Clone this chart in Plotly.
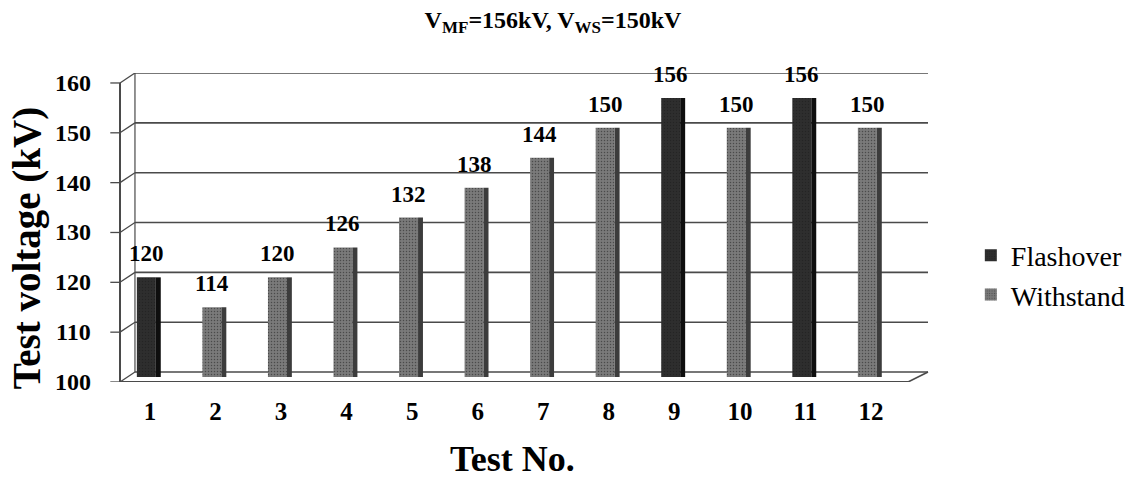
import plotly.graph_objects as go

# Test sequence and outcomes
tests = list(range(1, 13))
voltages = [120, 114, 120, 126, 132, 138, 144, 150, 156, 150, 156, 150]
outcomes = ["Flashover", "Withstand", "Withstand", "Withstand", "Withstand", "Withstand",
            "Withstand", "Withstand", "Flashover", "Withstand", "Flashover", "Withstand"]
y_ticks = [100, 110, 120, 130, 140, 150, 160]

FONT = "Liberation Serif"
face_colors = {"Flashover": "#2e2e2e", "Withstand": "#7a7a7a"}
side_colors = {"Flashover": "#0e0e0e", "Withstand": "#3c3c3c"}
grid_col = "#4a4a4a"

fig = go.Figure()

for series in ["Flashover", "Withstand"]:
    vals = [v if o == series else None for v, o in zip(voltages, outcomes)]
    heights = [None if v is None else v - 100 for v in vals]
    # front face of each bar
    fig.add_trace(go.Bar(
        x=tests, y=heights, base=100,
        name=series, offset=-0.2, width=0.29,
        marker=dict(color=face_colors[series], line=dict(width=0),
                    pattern=dict(shape=".", fgcolor="#1a1a1a", bgcolor=face_colors[series],
                                 size=3, solidity=0.2)),
        yaxis="y", hoverinfo="skip",
    ))
    # darker right-hand side face for depth
    fig.add_trace(go.Bar(
        x=tests, y=heights, base=100,
        name=series, offset=0.09, width=0.075, showlegend=False,
        marker=dict(color=side_colors[series], line=dict(width=0)),
        yaxis="y", hoverinfo="skip",
    ))

# value labels above bars
annotations = []
for t, v in zip(tests, voltages):
    annotations.append(dict(x=t - 0.055, y=v, xref="x", yref="y", text=f"<b>{v}</b>",
                            showarrow=False, yanchor="bottom", yshift=9,
                            font=dict(family=FONT, size=23, color="#000000")))

# y tick labels on the front axis
for v in y_ticks:
    annotations.append(dict(x=(93 - 120) / 810, y=v, xref="paper", yref="y2",
                            text=f"<b>{v}</b>", showarrow=False,
                            xanchor="right", yanchor="middle",
                            font=dict(family=FONT, size=24, color="#000000")))

# axis titles
annotations.append(dict(text="<b>Test No.</b>", xref="paper", yref="paper",
                        x=(513 - 120) / 810, y=-(459 - 382) / 309,
                        xanchor="center", yanchor="middle", showarrow=False,
                        font=dict(family=FONT, size=36, color="#000000")))
annotations.append(dict(text="<b>Test voltage (kV)</b>", xref="paper", yref="paper",
                        x=(27 - 120) / 810, y=(382 - 248) / 309, textangle=-90,
                        xanchor="center", yanchor="middle", showarrow=False,
                        font=dict(family=FONT, size=39, color="#000000")))

# back wall gridlines and left wall connectors
xb = 15 / 810
xf_end = 790 / 810
shapes = []
for v in y_ticks:
    shapes.append(dict(type="line", xref="paper", yref="y3", x0=xb, x1=1, y0=v, y1=v,
                       line=dict(color=grid_col, width=1.6), layer="below"))
    shapes.append(dict(type="line", xref="paper", yref="y3", x0=0, x1=xb, y0=v - 2, y1=v,
                       line=dict(color=grid_col, width=1.3), layer="below"))
    shapes.append(dict(type="line", xref="paper", yref="y3", x0=-0.012, x1=0, y0=v - 2, y1=v - 2,
                       line=dict(color=grid_col, width=1.3), layer="below"))
# back wall left edge, front axis line, floor edges
shapes.append(dict(type="line", xref="paper", yref="y3", x0=xb, x1=xb, y0=100, y1=160,
                   line=dict(color=grid_col, width=1.2), layer="below"))
shapes.append(dict(type="line", xref="paper", yref="y3", x0=0, x1=0, y0=98, y1=158,
                   line=dict(color=grid_col, width=2), layer="below"))
shapes.append(dict(type="line", xref="paper", yref="y3", x0=0, x1=xf_end, y0=98, y1=98,
                   line=dict(color=grid_col, width=2), layer="below"))
shapes.append(dict(type="line", xref="paper", yref="y3", x0=xf_end, x1=1, y0=98, y1=100,
                   line=dict(color=grid_col, width=1.6), layer="below"))

sub = "<sub><span style='font-size:17px'>{}</span></sub>"
title_text = ("<b>V" + sub.format("MF") + "=156kV, V" + sub.format("WS") + "=150kV</b>")

fig.update_layout(
    width=1142, height=480,
    margin=dict(l=120, r=212, t=73, b=98),
    paper_bgcolor="#ffffff", plot_bgcolor="rgba(0,0,0,0)",
    font=dict(family=FONT, color="#000000"),
    barmode="overlay",
    title=dict(text=title_text,
               x=553 / 1142, xanchor="center", xref="container", y=1 - 20 / 480,
               yanchor="middle",
               font=dict(family=FONT, size=24, color="#000000")),
    xaxis=dict(range=[0.543, 12.87], tickmode="array", tickvals=tests,
               ticktext=[f"<b>{t}</b>" for t in tests], showgrid=False, zeroline=False,
               showline=False, ticks="", ticklabelstandoff=12,
               tickfont=dict(family=FONT, size=25, color="#000000")),
    yaxis=dict(range=[99.0, 161.0], showgrid=False, zeroline=False, showticklabels=False,
               showline=False, ticks=""),
    yaxis2=dict(range=[100, 162], overlaying="y", side="left", showticklabels=False,
                showgrid=False, zeroline=False, showline=False, ticks=""),
    yaxis3=dict(range=[98, 160], overlaying="y", visible=False),
    legend=dict(x=1.053, y=(382 - 275) / 309, xanchor="left", yanchor="middle",
                font=dict(family=FONT, size=28, color="#000000"),
                itemwidth=30, tracegroupgap=2, bgcolor="rgba(0,0,0,0)"),
    shapes=shapes,
    annotations=annotations,
    showlegend=True,
)

# keep the front axis and the back wall axis available for their labels and lines
fig.add_trace(go.Scatter(x=[None], y=[None], yaxis="y2", showlegend=False, hoverinfo="skip"))
fig.add_trace(go.Scatter(x=[None], y=[None], yaxis="y3", showlegend=False, hoverinfo="skip"))

fig.write_html("out.html")
